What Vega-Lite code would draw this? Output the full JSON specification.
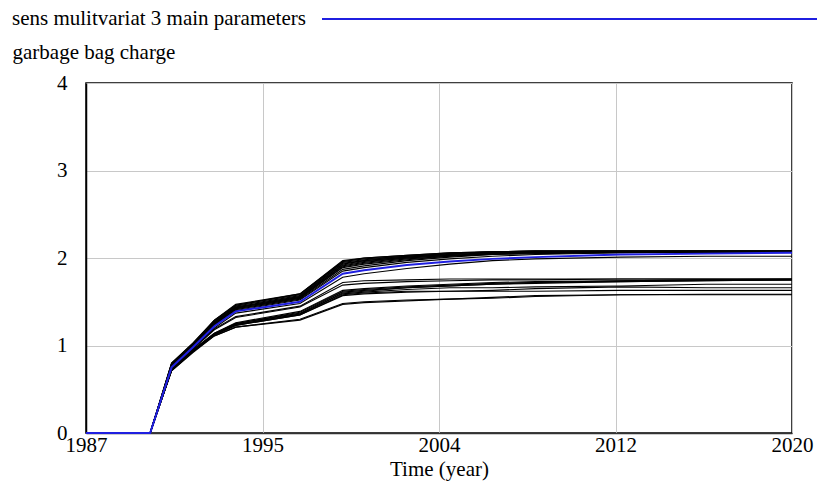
{
"$schema":"https://vega.github.io/schema/vega-lite/v6.json",
"width":706,"height":350,
"autosize":{"type":"none"},
"padding":{"left":86,"top":83,"right":25,"bottom":55},
"background":"white",
"config":{"view":{"stroke":"#000000","strokeWidth":1.5},"font":"Liberation Serif","legend":{"gradientHorizontalMaxLength":800,"gradientHorizontalMinLength":10}},
"datasets":{"runs":[
{"run":"T1","t":1987,"v":0},{"run":"T1","t":1990,"v":0},{"run":"T1","t":1991,"v":0.80},{"run":"T1","t":1992,"v":1.03},{"run":"T1","t":1993,"v":1.29},{"run":"T1","t":1994,"v":1.47},{"run":"T1","t":1997,"v":1.59},{"run":"T1","t":1999,"v":1.97},{"run":"T1","t":2000,"v":2.00},{"run":"T1","t":2002,"v":2.03},{"run":"T1","t":2004,"v":2.06},{"run":"T1","t":2006,"v":2.07},{"run":"T1","t":2008,"v":2.08},{"run":"T1","t":2012,"v":2.08},{"run":"T1","t":2016,"v":2.08},{"run":"T1","t":2020,"v":2.08},
{"run":"T2","t":1987,"v":0},{"run":"T2","t":1990,"v":0},{"run":"T2","t":1991,"v":0.79},{"run":"T2","t":1992,"v":1.02},{"run":"T2","t":1993,"v":1.28},{"run":"T2","t":1994,"v":1.46},{"run":"T2","t":1997,"v":1.58},{"run":"T2","t":1999,"v":1.96},{"run":"T2","t":2000,"v":1.99},{"run":"T2","t":2002,"v":2.02},{"run":"T2","t":2004,"v":2.05},{"run":"T2","t":2006,"v":2.07},{"run":"T2","t":2008,"v":2.08},{"run":"T2","t":2012,"v":2.08},{"run":"T2","t":2016,"v":2.08},{"run":"T2","t":2020,"v":2.08},
{"run":"T3","t":1987,"v":0},{"run":"T3","t":1990,"v":0},{"run":"T3","t":1991,"v":0.79},{"run":"T3","t":1992,"v":1.02},{"run":"T3","t":1993,"v":1.27},{"run":"T3","t":1994,"v":1.45},{"run":"T3","t":1997,"v":1.57},{"run":"T3","t":1999,"v":1.95},{"run":"T3","t":2000,"v":1.98},{"run":"T3","t":2002,"v":2.02},{"run":"T3","t":2004,"v":2.05},{"run":"T3","t":2006,"v":2.07},{"run":"T3","t":2008,"v":2.08},{"run":"T3","t":2012,"v":2.08},{"run":"T3","t":2016,"v":2.08},{"run":"T3","t":2020,"v":2.08},
{"run":"T4","t":1987,"v":0},{"run":"T4","t":1990,"v":0},{"run":"T4","t":1991,"v":0.78},{"run":"T4","t":1992,"v":1.01},{"run":"T4","t":1993,"v":1.27},{"run":"T4","t":1994,"v":1.44},{"run":"T4","t":1997,"v":1.56},{"run":"T4","t":1999,"v":1.94},{"run":"T4","t":2000,"v":1.97},{"run":"T4","t":2002,"v":2.01},{"run":"T4","t":2004,"v":2.04},{"run":"T4","t":2006,"v":2.06},{"run":"T4","t":2008,"v":2.07},{"run":"T4","t":2012,"v":2.08},{"run":"T4","t":2016,"v":2.08},{"run":"T4","t":2020,"v":2.08},
{"run":"T5","t":1987,"v":0},{"run":"T5","t":1990,"v":0},{"run":"T5","t":1991,"v":0.78},{"run":"T5","t":1992,"v":1.01},{"run":"T5","t":1993,"v":1.26},{"run":"T5","t":1994,"v":1.44},{"run":"T5","t":1997,"v":1.56},{"run":"T5","t":1999,"v":1.93},{"run":"T5","t":2000,"v":1.97},{"run":"T5","t":2002,"v":2.01},{"run":"T5","t":2004,"v":2.04},{"run":"T5","t":2006,"v":2.06},{"run":"T5","t":2008,"v":2.07},{"run":"T5","t":2012,"v":2.07},{"run":"T5","t":2016,"v":2.08},{"run":"T5","t":2020,"v":2.08},
{"run":"T6","t":1987,"v":0},{"run":"T6","t":1990,"v":0},{"run":"T6","t":1991,"v":0.78},{"run":"T6","t":1992,"v":1.00},{"run":"T6","t":1993,"v":1.26},{"run":"T6","t":1994,"v":1.43},{"run":"T6","t":1997,"v":1.55},{"run":"T6","t":1999,"v":1.92},{"run":"T6","t":2000,"v":1.96},{"run":"T6","t":2002,"v":2.00},{"run":"T6","t":2004,"v":2.03},{"run":"T6","t":2006,"v":2.05},{"run":"T6","t":2008,"v":2.07},{"run":"T6","t":2012,"v":2.07},{"run":"T6","t":2016,"v":2.07},{"run":"T6","t":2020,"v":2.07},
{"run":"T7","t":1987,"v":0},{"run":"T7","t":1990,"v":0},{"run":"T7","t":1991,"v":0.77},{"run":"T7","t":1992,"v":1.00},{"run":"T7","t":1993,"v":1.25},{"run":"T7","t":1994,"v":1.43},{"run":"T7","t":1997,"v":1.55},{"run":"T7","t":1999,"v":1.91},{"run":"T7","t":2000,"v":1.95},{"run":"T7","t":2002,"v":2.00},{"run":"T7","t":2004,"v":2.03},{"run":"T7","t":2006,"v":2.05},{"run":"T7","t":2008,"v":2.06},{"run":"T7","t":2012,"v":2.07},{"run":"T7","t":2016,"v":2.07},{"run":"T7","t":2020,"v":2.07},
{"run":"T8","t":1987,"v":0},{"run":"T8","t":1990,"v":0},{"run":"T8","t":1991,"v":0.77},{"run":"T8","t":1992,"v":1.00},{"run":"T8","t":1993,"v":1.25},{"run":"T8","t":1994,"v":1.42},{"run":"T8","t":1997,"v":1.54},{"run":"T8","t":1999,"v":1.90},{"run":"T8","t":2000,"v":1.94},{"run":"T8","t":2002,"v":1.99},{"run":"T8","t":2004,"v":2.02},{"run":"T8","t":2006,"v":2.05},{"run":"T8","t":2008,"v":2.06},{"run":"T8","t":2012,"v":2.07},{"run":"T8","t":2016,"v":2.07},{"run":"T8","t":2020,"v":2.07},
{"run":"T9","t":1987,"v":0},{"run":"T9","t":1990,"v":0},{"run":"T9","t":1991,"v":0.77},{"run":"T9","t":1992,"v":0.99},{"run":"T9","t":1993,"v":1.24},{"run":"T9","t":1994,"v":1.42},{"run":"T9","t":1997,"v":1.54},{"run":"T9","t":1999,"v":1.89},{"run":"T9","t":2000,"v":1.93},{"run":"T9","t":2002,"v":1.98},{"run":"T9","t":2004,"v":2.02},{"run":"T9","t":2006,"v":2.04},{"run":"T9","t":2008,"v":2.06},{"run":"T9","t":2012,"v":2.07},{"run":"T9","t":2016,"v":2.07},{"run":"T9","t":2020,"v":2.07},
{"run":"T10","t":1987,"v":0},{"run":"T10","t":1990,"v":0},{"run":"T10","t":1991,"v":0.76},{"run":"T10","t":1992,"v":0.99},{"run":"T10","t":1993,"v":1.24},{"run":"T10","t":1994,"v":1.41},{"run":"T10","t":1997,"v":1.53},{"run":"T10","t":1999,"v":1.87},{"run":"T10","t":2000,"v":1.91},{"run":"T10","t":2002,"v":1.97},{"run":"T10","t":2004,"v":2.01},{"run":"T10","t":2006,"v":2.04},{"run":"T10","t":2008,"v":2.05},{"run":"T10","t":2012,"v":2.06},{"run":"T10","t":2016,"v":2.07},{"run":"T10","t":2020,"v":2.07},
{"run":"T11","t":1987,"v":0},{"run":"T11","t":1990,"v":0},{"run":"T11","t":1991,"v":0.76},{"run":"T11","t":1992,"v":0.99},{"run":"T11","t":1993,"v":1.23},{"run":"T11","t":1994,"v":1.40},{"run":"T11","t":1997,"v":1.52},{"run":"T11","t":1999,"v":1.85},{"run":"T11","t":2000,"v":1.89},{"run":"T11","t":2002,"v":1.95},{"run":"T11","t":2004,"v":1.99},{"run":"T11","t":2006,"v":2.02},{"run":"T11","t":2008,"v":2.04},{"run":"T11","t":2012,"v":2.06},{"run":"T11","t":2016,"v":2.07},{"run":"T11","t":2020,"v":2.07},
{"run":"T12","t":1987,"v":0},{"run":"T12","t":1990,"v":0},{"run":"T12","t":1991,"v":0.80},{"run":"T12","t":1992,"v":1.02},{"run":"T12","t":1993,"v":1.29},{"run":"T12","t":1994,"v":1.46},{"run":"T12","t":1997,"v":1.59},{"run":"T12","t":1999,"v":1.96},{"run":"T12","t":2000,"v":2.00},{"run":"T12","t":2002,"v":2.03},{"run":"T12","t":2004,"v":2.06},{"run":"T12","t":2006,"v":2.07},{"run":"T12","t":2008,"v":2.08},{"run":"T12","t":2012,"v":2.08},{"run":"T12","t":2016,"v":2.08},{"run":"T12","t":2020,"v":2.08},
{"run":"M1","t":1987,"v":0},{"run":"M1","t":1990,"v":0},{"run":"M1","t":1991,"v":0.74},{"run":"M1","t":1992,"v":0.97},{"run":"M1","t":1993,"v":1.20},{"run":"M1","t":1994,"v":1.37},{"run":"M1","t":1997,"v":1.48},{"run":"M1","t":1999,"v":1.78},{"run":"M1","t":2000,"v":1.82},{"run":"M1","t":2002,"v":1.88},{"run":"M1","t":2004,"v":1.93},{"run":"M1","t":2006,"v":1.97},{"run":"M1","t":2008,"v":1.99},{"run":"M1","t":2012,"v":2.01},{"run":"M1","t":2016,"v":2.02},{"run":"M1","t":2020,"v":2.02},
{"run":"M2","t":1987,"v":0},{"run":"M2","t":1990,"v":0},{"run":"M2","t":1991,"v":0.75},{"run":"M2","t":1992,"v":0.97},{"run":"M2","t":1993,"v":1.19},{"run":"M2","t":1994,"v":1.33},{"run":"M2","t":1997,"v":1.45},{"run":"M2","t":1999,"v":1.72},{"run":"M2","t":2000,"v":1.74},{"run":"M2","t":2002,"v":1.75},{"run":"M2","t":2004,"v":1.76},{"run":"M2","t":2006,"v":1.76},{"run":"M2","t":2008,"v":1.76},{"run":"M2","t":2012,"v":1.76},{"run":"M2","t":2016,"v":1.76},{"run":"M2","t":2020,"v":1.76},
{"run":"M3","t":1987,"v":0},{"run":"M3","t":1990,"v":0},{"run":"M3","t":1991,"v":0.74},{"run":"M3","t":1992,"v":0.96},{"run":"M3","t":1993,"v":1.18},{"run":"M3","t":1994,"v":1.32},{"run":"M3","t":1997,"v":1.44},{"run":"M3","t":1999,"v":1.69},{"run":"M3","t":2000,"v":1.71},{"run":"M3","t":2002,"v":1.73},{"run":"M3","t":2004,"v":1.74},{"run":"M3","t":2006,"v":1.75},{"run":"M3","t":2008,"v":1.75},{"run":"M3","t":2012,"v":1.76},{"run":"M3","t":2016,"v":1.76},{"run":"M3","t":2020,"v":1.76},
{"run":"L1","t":1987,"v":0},{"run":"L1","t":1990,"v":0},{"run":"L1","t":1991,"v":0.73},{"run":"L1","t":1992,"v":0.95},{"run":"L1","t":1993,"v":1.14},{"run":"L1","t":1994,"v":1.26},{"run":"L1","t":1997,"v":1.39},{"run":"L1","t":1999,"v":1.63},{"run":"L1","t":2000,"v":1.65},{"run":"L1","t":2002,"v":1.68},{"run":"L1","t":2004,"v":1.70},{"run":"L1","t":2006,"v":1.72},{"run":"L1","t":2008,"v":1.73},{"run":"L1","t":2012,"v":1.74},{"run":"L1","t":2016,"v":1.75},{"run":"L1","t":2020,"v":1.76},
{"run":"L2","t":1987,"v":0},{"run":"L2","t":1990,"v":0},{"run":"L2","t":1991,"v":0.73},{"run":"L2","t":1992,"v":0.95},{"run":"L2","t":1993,"v":1.14},{"run":"L2","t":1994,"v":1.25},{"run":"L2","t":1997,"v":1.38},{"run":"L2","t":1999,"v":1.62},{"run":"L2","t":2000,"v":1.64},{"run":"L2","t":2002,"v":1.67},{"run":"L2","t":2004,"v":1.69},{"run":"L2","t":2006,"v":1.71},{"run":"L2","t":2008,"v":1.72},{"run":"L2","t":2012,"v":1.74},{"run":"L2","t":2016,"v":1.75},{"run":"L2","t":2020,"v":1.75},
{"run":"L3","t":1987,"v":0},{"run":"L3","t":1990,"v":0},{"run":"L3","t":1991,"v":0.72},{"run":"L3","t":1992,"v":0.94},{"run":"L3","t":1993,"v":1.13},{"run":"L3","t":1994,"v":1.25},{"run":"L3","t":1997,"v":1.37},{"run":"L3","t":1999,"v":1.61},{"run":"L3","t":2000,"v":1.63},{"run":"L3","t":2002,"v":1.66},{"run":"L3","t":2004,"v":1.68},{"run":"L3","t":2006,"v":1.70},{"run":"L3","t":2008,"v":1.72},{"run":"L3","t":2012,"v":1.73},{"run":"L3","t":2016,"v":1.74},{"run":"L3","t":2020,"v":1.75},
{"run":"L4","t":1987,"v":0},{"run":"L4","t":1990,"v":0},{"run":"L4","t":1991,"v":0.72},{"run":"L4","t":1992,"v":0.94},{"run":"L4","t":1993,"v":1.13},{"run":"L4","t":1994,"v":1.24},{"run":"L4","t":1997,"v":1.36},{"run":"L4","t":1999,"v":1.60},{"run":"L4","t":2000,"v":1.62},{"run":"L4","t":2002,"v":1.66},{"run":"L4","t":2004,"v":1.68},{"run":"L4","t":2006,"v":1.70},{"run":"L4","t":2008,"v":1.71},{"run":"L4","t":2012,"v":1.73},{"run":"L4","t":2016,"v":1.74},{"run":"L4","t":2020,"v":1.75},
{"run":"L5","t":1987,"v":0},{"run":"L5","t":1990,"v":0},{"run":"L5","t":1991,"v":0.72},{"run":"L5","t":1992,"v":0.94},{"run":"L5","t":1993,"v":1.12},{"run":"L5","t":1994,"v":1.24},{"run":"L5","t":1997,"v":1.36},{"run":"L5","t":1999,"v":1.59},{"run":"L5","t":2000,"v":1.61},{"run":"L5","t":2002,"v":1.64},{"run":"L5","t":2004,"v":1.66},{"run":"L5","t":2006,"v":1.66},{"run":"L5","t":2008,"v":1.67},{"run":"L5","t":2012,"v":1.68},{"run":"L5","t":2016,"v":1.70},{"run":"L5","t":2020,"v":1.70},
{"run":"L6","t":1987,"v":0},{"run":"L6","t":1990,"v":0},{"run":"L6","t":1991,"v":0.72},{"run":"L6","t":1992,"v":0.93},{"run":"L6","t":1993,"v":1.12},{"run":"L6","t":1994,"v":1.23},{"run":"L6","t":1997,"v":1.35},{"run":"L6","t":1999,"v":1.58},{"run":"L6","t":2000,"v":1.60},{"run":"L6","t":2002,"v":1.62},{"run":"L6","t":2004,"v":1.62},{"run":"L6","t":2006,"v":1.63},{"run":"L6","t":2008,"v":1.65},{"run":"L6","t":2012,"v":1.67},{"run":"L6","t":2016,"v":1.66},{"run":"L6","t":2020,"v":1.66},
{"run":"L7","t":1987,"v":0},{"run":"L7","t":1990,"v":0},{"run":"L7","t":1991,"v":0.72},{"run":"L7","t":1992,"v":0.93},{"run":"L7","t":1993,"v":1.12},{"run":"L7","t":1994,"v":1.23},{"run":"L7","t":1997,"v":1.35},{"run":"L7","t":1999,"v":1.57},{"run":"L7","t":2000,"v":1.59},{"run":"L7","t":2002,"v":1.61},{"run":"L7","t":2004,"v":1.62},{"run":"L7","t":2006,"v":1.62},{"run":"L7","t":2008,"v":1.62},{"run":"L7","t":2012,"v":1.63},{"run":"L7","t":2016,"v":1.63},{"run":"L7","t":2020,"v":1.63},
{"run":"W1","t":1987,"v":0},{"run":"W1","t":1990,"v":0},{"run":"W1","t":1991,"v":0.71},{"run":"W1","t":1992,"v":0.93},{"run":"W1","t":1993,"v":1.11},{"run":"W1","t":1994,"v":1.21},{"run":"W1","t":1997,"v":1.30},{"run":"W1","t":1999,"v":1.48},{"run":"W1","t":2000,"v":1.50},{"run":"W1","t":2002,"v":1.52},{"run":"W1","t":2004,"v":1.53},{"run":"W1","t":2006,"v":1.55},{"run":"W1","t":2008,"v":1.57},{"run":"W1","t":2012,"v":1.58},{"run":"W1","t":2016,"v":1.585},{"run":"W1","t":2020,"v":1.585},
{"run":"W2","t":1987,"v":0},{"run":"W2","t":1990,"v":0},{"run":"W2","t":1991,"v":0.71},{"run":"W2","t":1992,"v":0.92},{"run":"W2","t":1993,"v":1.11},{"run":"W2","t":1994,"v":1.21},{"run":"W2","t":1997,"v":1.29},{"run":"W2","t":1999,"v":1.47},{"run":"W2","t":2000,"v":1.49},{"run":"W2","t":2002,"v":1.51},{"run":"W2","t":2004,"v":1.53},{"run":"W2","t":2006,"v":1.54},{"run":"W2","t":2008,"v":1.56},{"run":"W2","t":2012,"v":1.58},{"run":"W2","t":2016,"v":1.58},{"run":"W2","t":2020,"v":1.58}
],
"base":[
{"run":"sens mulitvariat 3 main parameters","t":1987,"v":0},{"run":"sens mulitvariat 3 main parameters","t":1990,"v":0},{"run":"sens mulitvariat 3 main parameters","t":1991,"v":0.75},{"run":"sens mulitvariat 3 main parameters","t":1992,"v":0.98},{"run":"sens mulitvariat 3 main parameters","t":1993,"v":1.22},{"run":"sens mulitvariat 3 main parameters","t":1994,"v":1.39},{"run":"sens mulitvariat 3 main parameters","t":1997,"v":1.50},{"run":"sens mulitvariat 3 main parameters","t":1999,"v":1.82},{"run":"sens mulitvariat 3 main parameters","t":2000,"v":1.86},{"run":"sens mulitvariat 3 main parameters","t":2002,"v":1.92},{"run":"sens mulitvariat 3 main parameters","t":2004,"v":1.96},{"run":"sens mulitvariat 3 main parameters","t":2006,"v":1.99},{"run":"sens mulitvariat 3 main parameters","t":2008,"v":2.01},{"run":"sens mulitvariat 3 main parameters","t":2012,"v":2.04},{"run":"sens mulitvariat 3 main parameters","t":2016,"v":2.05},{"run":"sens mulitvariat 3 main parameters","t":2020,"v":2.06}
]},
"encoding":{
"x":{"field":"t","type":"quantitative","scale":{"domain":[1987,2020],"nice":false,"zero":false},
"axis":{"values":[1987,1995.25,2003.5,2011.75,2020],"labelExpr":"format(round(datum.value),'d')","title":"Time (year)","grid":true,"gridColor":"#c8c8c8","gridWidth":1,"domainColor":"#333333","domainWidth":1.5,"ticks":false,"labelPadding":1,"labelFont":"Liberation Serif","labelFontSize":21,"labelColor":"#000000","labelOverlap":false,"labelFlush":false,"titleFont":"Liberation Serif","titleFontSize":21,"titleFontWeight":"normal","titleColor":"#000000","titlePadding":3}},
"y":{"field":"v","type":"quantitative","scale":{"domain":[0,4],"nice":false,"zero":true},
"axis":{"values":[0,1,2,3,4],"title":"garbage bag charge","titleAngle":0,"titleAlign":"left","titleBaseline":"middle","titleX":-74,"titleY":-31,"grid":true,"gridColor":"#c8c8c8","gridWidth":1,"domainColor":"#000000","domainWidth":1.5,"ticks":false,"labelPadding":19,"labelFont":"Liberation Serif","labelFontSize":21,"labelColor":"#000000","labelFlush":false,"titleFont":"Liberation Serif","titleFontSize":21,"titleFontWeight":"normal","titleColor":"#000000"}}
},
"layer":[
{"data":{"name":"runs"},"mark":{"type":"line","color":"#000000","strokeWidth":1.1,"interpolate":"linear"},
 "encoding":{"detail":{"field":"run","type":"nominal"}}},
{"data":{"name":"base"},"mark":{"type":"line","strokeWidth":2,"interpolate":"linear"},
 "encoding":{"detail":{"field":"run","type":"nominal"},"color":{"datum":1,"type":"quantitative","scale":{"domain":[0,1],"range":["#1f1fe0","#1f1fe0"]},
  "legend":{"type":"gradient","direction":"horizontal","orient":"none","legendX":-74,"legendY":-65,"gradientLength":495,"gradientThickness":2,"gradientStrokeWidth":0,"labelExpr":"''","labelFontSize":1,"labelOffset":0,"values":[0],"title":"sens mulitvariat 3 main parameters","titleOrient":"left","titleLimit":0,"titleBaseline":"middle","titleFont":"Liberation Serif","titleFontSize":21,"titleFontWeight":"normal","titleColor":"#000000","titlePadding":16,"padding":0}}}}
]
}
